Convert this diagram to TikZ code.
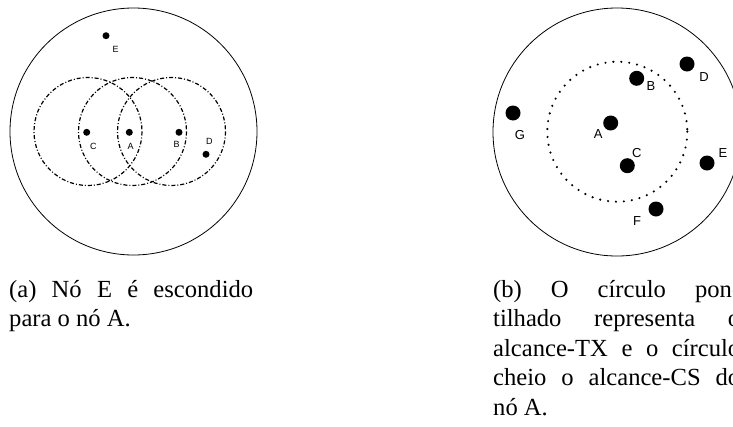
\documentclass[tikz,border=0pt]{standalone}
\usepackage{fontspec}
\setmainfont{Liberation Serif}
\newfontfamily\rotulofont{Liberation Sans}
\tolerance=9999

\tikzset{
  contour/.style={line width=0.8pt},
  alcancecs/.style={line width=1.2pt, dash pattern=on 4pt off 2pt on 1pt off 2pt},
  alcancetx/.style={line width=2.4pt, line cap=round, dash pattern=on 0pt off 7.95pt},
  ponto/.style={circle, fill=black, inner sep=0pt, minimum size=7pt},
  pontog/.style={circle, fill=black, inner sep=0pt, minimum size=15pt},
  rotulo/.style={inner sep=0pt, font=\rotulofont\fontsize{9}{10}\selectfont},
  rotulog/.style={inner sep=0pt, font=\rotulofont\fontsize{13}{15}\selectfont},
  legenda/.style={anchor=base west, inner sep=0pt, text width=244pt, align=justify,
    font=\fontsize{24.6}{29.5}\selectfont}
}

\begin{document}
\begin{tikzpicture}[x=1pt,y=-1pt]
            \clip (0,0) rectangle (733,426);

            % Figure (a) : les cercles
            \draw[contour] (133.5,131.5) circle (123.5);
            \draw[alcancecs] (88,131.5) circle (54);
            \draw[alcancecs] (132.5,131.5) circle (54);
            \draw[alcancecs] (171.5,131.5) circle (54);

            % Figure (a) : les noeuds
            \node[ponto] (aE) at (106,35.7) {};
            \node[ponto] (aC) at (86.7,132.3) {};
            \node[ponto] (aA) at (129.3,132.3) {};
            \node[ponto] (aB) at (179,132.3) {};
            \node[ponto] (aD) at (206,154.3) {};
            \node[rotulo] (laE) at (115.7,49.3) {E};
            \node[rotulo] (laC) at (93.3,146) {C};
            \node[rotulo] (laA) at (130.7,146) {A};
            \node[rotulo] (laB) at (176.7,144.5) {B};
            \node[rotulo] (laD) at (209.3,141) {D};

            % Figure (b) : les cercles
            \draw[contour] (617,132) circle (124);
            \draw[alcancetx] (617.3,131.7) circle (70);

            % Figure (b) : les noeuds
            \node[pontog] (bA) at (610.7,123) {};
            \node[pontog] (bB) at (636.7,78.3) {};
            \node[pontog] (bC) at (627.3,165.7) {};
            \node[pontog] (bD) at (687,64) {};
            \node[pontog] (bE) at (707,163) {};
            \node[pontog] (bF) at (656,209) {};
            \node[pontog] (bG) at (513,113) {};
            \node[rotulog] (lbA) at (598.3,134.3) {A};
            \node[rotulog] (lbB) at (651,85.7) {B};
            \node[rotulog] (lbC) at (636.7,152.7) {C};
            \node[rotulog] (lbD) at (704,77) {D};
            \node[rotulog] (lbE) at (723,153) {E};
            \node[rotulog] (lbF) at (637,221) {F};
            \node[rotulog] (lbG) at (520,135) {G};

            % Légendes
            \node[legenda] (capa) at (9,297) {(a) Nó E é escondido\linebreak para o nó A.};
            \node[legenda, text width=247pt] (capb) at (493,297) {(b) O círculo pon-\linebreak tilhado representa o\linebreak alcance-TX e o círculo\linebreak cheio o alcance-CS do\linebreak nó A.};
          \end{tikzpicture}
\end{document}
